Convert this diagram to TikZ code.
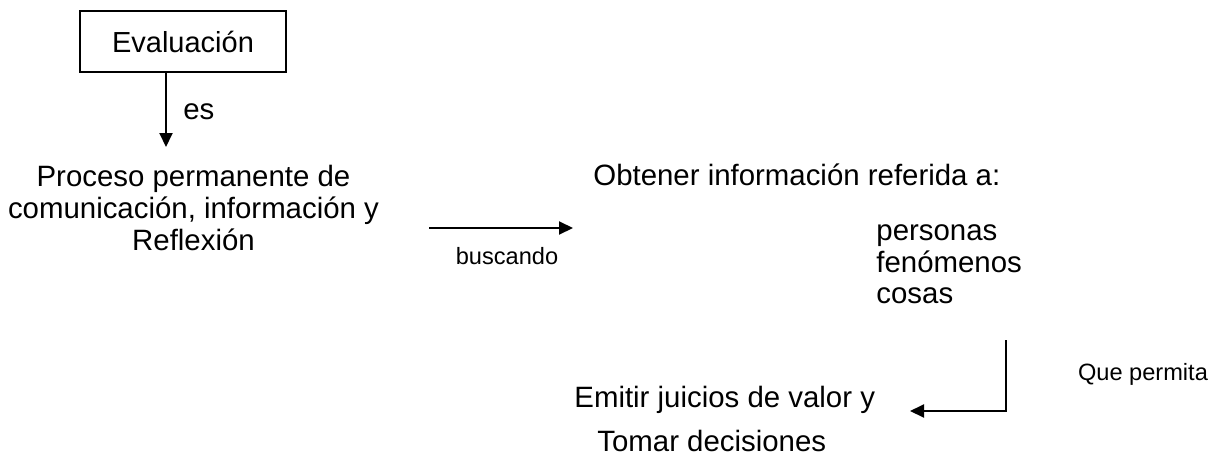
\documentclass[tikz,border=0pt]{standalone}
\usepackage{fontspec}
\setmainfont{Liberation Sans}
\usetikzlibrary{arrows.meta}
\begin{document}
\begin{tikzpicture}[x=0.5pt,y=-0.5pt,
  txt/.style={inner sep=0pt,font=\fontsize{14.7}{15.9}\selectfont},
  small/.style={inner sep=0pt,font=\fontsize{11.8}{13}\selectfont},
  arr/.style={line width=1pt,-{Triangle[length=7pt,width=6.5pt]}},
  ln/.style={line width=1pt}]
\useasboundingbox (0,0) rectangle (1227,455);
\node[draw,line width=1pt,minimum width=103pt,minimum height=30.5pt,inner sep=0pt,font=\fontsize{14.5}{15.9}\selectfont] (eval) at (183,41.5) {Evaluación};
\node[txt,anchor=base west] (es) at (183,119) {es};
\node[txt,align=center,font=\fontsize{14.7}{15.9}\selectfont] (proc) at (193.5,208) {Proceso permanente de\\comunicación, información y\\Reflexión};
\node[txt,anchor=base west] (obt) at (593,185) {Obtener información referida a:};
\node[txt,align=left,anchor=north west] (items) at (876,224) {personas\\fenómenos\\cosas};
\node[small,anchor=base] (busc) at (507,264) {buscando};
\node[small,anchor=base] (que) at (1143,380) {Que permita};
\node[txt,anchor=base west] (emit) at (574,407) {Emitir juicios de valor y};
\node[txt,anchor=base west] (tomar) at (597,451) {Tomar decisiones};
\coordinate (a1) at (166,147);
\coordinate (b0) at (429,228);
\coordinate (b1) at (573,228);
\coordinate (c0) at (1006,340);
\coordinate (c1) at (1006,411);
\coordinate (c2) at (910,411);
\draw[arr] (eval.south -| a1) -- (a1);
\draw[arr] (b0) -- (b1);
\draw[arr] (c0) -- (c1) -- (c2);
\end{tikzpicture}
\end{document}
